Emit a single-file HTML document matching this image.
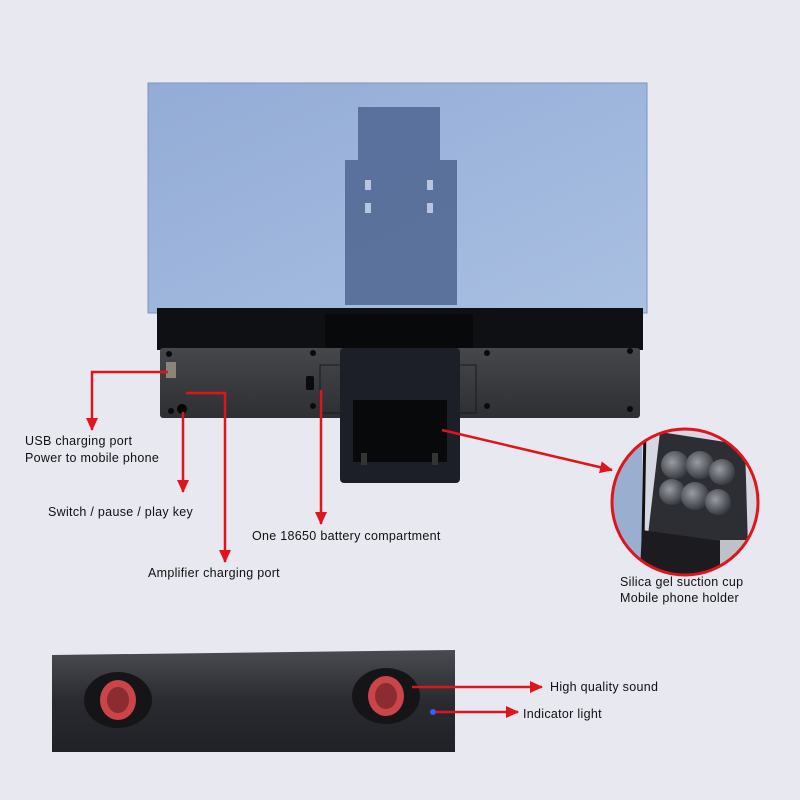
<!DOCTYPE html>
<html><head><meta charset="utf-8"><style>
html,body{margin:0;padding:0;background:#e7e8f0;}
svg{display:block}
text{font-family:"Liberation Sans",sans-serif;font-size:12.5px;fill:#111;letter-spacing:0.3px}
</style></head><body>
<svg width="800" height="800" viewBox="0 0 800 800" xmlns="http://www.w3.org/2000/svg">
<defs>
<linearGradient id="blue" x1="0" y1="0" x2="1" y2="1">
<stop offset="0" stop-color="#93acd6"/><stop offset="1" stop-color="#a9c0e2"/></linearGradient>
<linearGradient id="bar" x1="0" y1="0" x2="0" y2="1">
<stop offset="0" stop-color="#46474b"/><stop offset="1" stop-color="#2e2f33"/></linearGradient>
<linearGradient id="spk" x1="0" y1="0" x2="0" y2="1">
<stop offset="0" stop-color="#4a4b50"/><stop offset="0.5" stop-color="#2a2b30"/><stop offset="1" stop-color="#202126"/></linearGradient>
<radialGradient id="cup" cx="0.4" cy="0.4" r="0.6"><stop offset="0" stop-color="#9a9ca4"/><stop offset="1" stop-color="#3a3c44"/></radialGradient>
<marker id="ar" markerWidth="14" markerHeight="14" refX="12" refY="6" orient="auto" markerUnits="userSpaceOnUse">
<path d="M0,0 L13,6 L0,12 Z" fill="#e0141c"/></marker>
<clipPath id="cc"><circle cx="685" cy="502" r="72"/></clipPath>
</defs>
<rect width="800" height="800" fill="#e7e8f0"/>
<!-- screen -->
<rect x="148" y="83" width="499" height="230" fill="url(#blue)" stroke="#7f95bb" stroke-width="1"/>
<path d="M358,107 H440 V160 H457 V305 H345 V160 H358 Z" fill="#4d6590" opacity="0.85"/>
<rect x="365" y="180" width="6" height="10" fill="#b7c6de"/><rect x="427" y="180" width="6" height="10" fill="#b7c6de"/>
<rect x="365" y="203" width="6" height="10" fill="#b7c6de"/><rect x="427" y="203" width="6" height="10" fill="#b7c6de"/>
<!-- base -->
<rect x="157" y="308" width="486" height="42" fill="#0f1013"/>
<rect x="325" y="314" width="148" height="36" fill="#08090b"/>
<rect x="160" y="348" width="480" height="70" rx="3" fill="url(#bar)"/>
<rect x="320" y="365" width="156" height="48" fill="none" stroke="#1a1a1c"/>
<g fill="#0a0a0c"><circle cx="169" cy="354" r="3"/><circle cx="630" cy="351" r="3"/><circle cx="171" cy="411" r="3"/><circle cx="630" cy="409" r="3"/><circle cx="313" cy="353" r="3"/><circle cx="487" cy="353" r="3"/><circle cx="313" cy="406" r="3"/><circle cx="487" cy="406" r="3"/></g>
<rect x="306" y="376" width="8" height="14" rx="2" fill="#0b0b0d"/>
<rect x="166" y="362" width="10" height="16" fill="#8a8578"/>
<circle cx="182" cy="409" r="5" fill="#050505"/>
<!-- phone holder -->
<rect x="340" y="348" width="120" height="135" rx="4" fill="#1c1f28"/>
<rect x="353" y="400" width="94" height="62" fill="#08090b"/>
<rect x="361" y="453" width="6" height="12" fill="#333"/><rect x="432" y="453" width="6" height="12" fill="#333"/>
<!-- circle inset -->
<circle cx="685" cy="502" r="73" fill="#d5d8e2"/>
<g clip-path="url(#cc)">
<rect x="612" y="428" width="30" height="150" fill="#9aaed0"/>
<line x1="645" y1="428" x2="643" y2="540" stroke="#111" stroke-width="3"/>
<path d="M660,432 L745,445 L748,548 L648,535 Z" fill="#2d2e33"/>
<g fill="url(#cup)"><circle cx="675" cy="465" r="14"/><circle cx="700" cy="465" r="14"/><circle cx="722" cy="472" r="13"/><circle cx="672" cy="492" r="13"/><circle cx="695" cy="496" r="14"/><circle cx="718" cy="502" r="13"/></g>
<path d="M642,530 L750,545 L745,580 L640,570 Z" fill="#1c1c20"/>
<rect x="720" y="540" width="40" height="40" fill="#bfc1c9"/>
</g>
<circle cx="685" cy="502" r="73" fill="none" stroke="#e0141c" stroke-width="3"/>
<!-- speaker bar -->
<path d="M52,655 L455,650 L455,752 L52,752 Z" fill="url(#spk)"/>
<ellipse cx="118" cy="700" rx="34" ry="28" fill="#151518"/>
<ellipse cx="118" cy="700" rx="18" ry="20" fill="#c9454a"/>
<ellipse cx="118" cy="700" rx="11" ry="13" fill="#8a2c30"/>
<ellipse cx="386" cy="696" rx="34" ry="28" fill="#151518"/>
<ellipse cx="386" cy="696" rx="18" ry="20" fill="#c9454a"/>
<ellipse cx="386" cy="696" rx="11" ry="13" fill="#8a2c30"/>
<circle cx="433" cy="712" r="3" fill="#3a5cff"/>
<!-- arrows -->
<g stroke="#e0141c" stroke-width="2.5" fill="none">
<polyline points="168,372 92,372 92,430" marker-end="url(#ar)"/>
<line x1="183" y1="412" x2="183" y2="492" marker-end="url(#ar)"/>
<polyline points="186,393 225,393 225,562" marker-end="url(#ar)"/>
<polyline points="321,390 321,524" marker-end="url(#ar)"/>
<line x1="442" y1="430" x2="612" y2="470" marker-end="url(#ar)"/>
<line x1="412" y1="687" x2="542" y2="687" marker-end="url(#ar)"/>
<line x1="436" y1="712" x2="518" y2="712" marker-end="url(#ar)"/>
</g>
<!-- labels -->
<text x="25" y="445">USB charging port</text>
<text x="25" y="462">Power to mobile phone</text>
<text x="48" y="516">Switch / pause / play key</text>
<text x="252" y="540">One 18650 battery compartment</text>
<text x="148" y="577">Amplifier charging port</text>
<text x="620" y="586">Silica gel suction cup</text>
<text x="620" y="602">Mobile phone holder</text>
<text x="550" y="691">High quality sound</text>
<text x="523" y="718">Indicator light</text>
</svg>
</body></html>
